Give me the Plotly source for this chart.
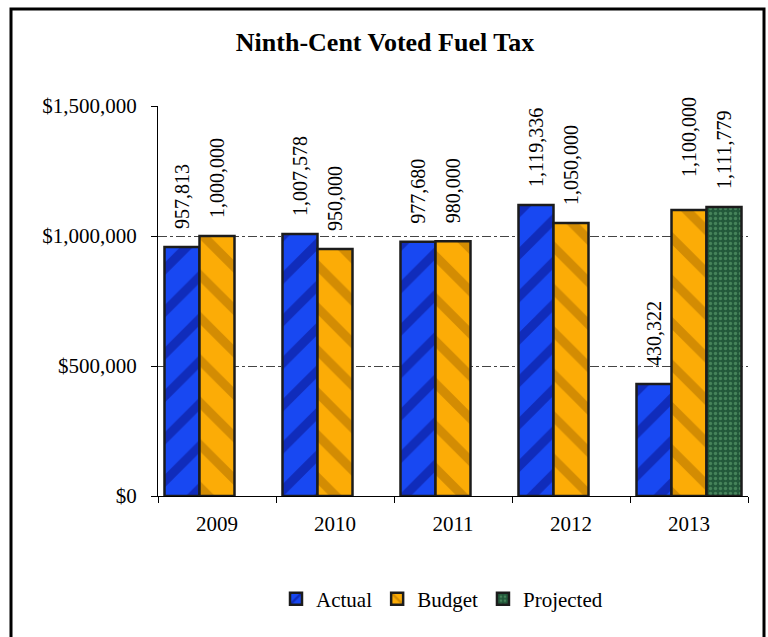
import plotly.graph_objects as go

# Fiscal years and revenue series
years = ["2009", "2010", "2011", "2012", "2013"]
actual = [957813, 1007578, 977680, 1119336, 430322]
budget = [1000000, 950000, 980000, 1050000, 1100000]
projected = [None, None, None, None, 1111779]

y_ticks = [0, 500000, 1000000, 1500000]
y_tick_labels = ["$0", "$500,000", "$1,000,000", "$1,500,000"]

FONT = "Liberation Serif, Times New Roman, serif"
W, H = 768, 637
L, R, T, B = 158, 20, 106, 141
PW, PH = W - L - R, H - T - B


def px_x(x):
    return (x - L) / PW


def px_y(y):
    return (H - B - y) / PH


outline = dict(color="#1c1c1c", width=2.5)
label_font = dict(family=FONT, size=20, color="black")
# leading spaces lift the rotated value labels clear of the bar tops
NB = "\u00a0"
label_tpl = NB * 3 + "%{y:,.0f}"
# the 2013 budget label sits a little higher so it clears its neighbour
budget_tpl = [label_tpl] * 4 + [NB * 6 + "%{y:,.0f}"]

common = dict(textposition="outside", textangle=-90, textfont=label_font,
              outsidetextfont=label_font, constraintext="none",
              cliponaxis=False)

fig = go.Figure()
fig.add_trace(go.Bar(
    name="Actual", x=years, y=actual,
    marker=dict(color="#1848f2", line=outline,
                pattern=dict(shape="/", fgcolor="#0a1896", size=30,
                             solidity=0.3, fgopacity=0.6)),
    texttemplate=label_tpl, **common,
))
fig.add_trace(go.Bar(
    name="Budget", x=years, y=budget,
    marker=dict(color="#fcac06", line=outline,
                pattern=dict(shape="\\", fgcolor="#b07000", size=30,
                             solidity=0.3, fgopacity=0.55)),
    texttemplate=budget_tpl, **common,
))
fig.add_trace(go.Bar(
    name="Projected", x=years, y=projected,
    marker=dict(color="#22583a", line=outline,
                pattern=dict(shape=".", fgcolor="#4f8d62", size=5,
                             solidity=0.35, fgopacity=0.8)),
    texttemplate=label_tpl, **common,
))

# Outer frame around the whole chart
fig.add_shape(type="rect", xref="paper", yref="paper",
              x0=px_x(11), x1=px_x(764), y0=px_y(645), y1=px_y(9),
              line=dict(color="black", width=3), fillcolor="rgba(0,0,0,0)",
              layer="below")

fig.update_layout(
    width=W, height=H,
    margin=dict(l=L, r=R, t=T, b=B),
    paper_bgcolor="white", plot_bgcolor="white",
    barmode="group", bargap=0.11, bargroupgap=0,
    font=dict(family=FONT, size=21, color="black"),
    title=dict(text="<b>Ninth-Cent Voted Fuel Tax</b>",
               font=dict(family=FONT, size=26, color="black"),
               x=385 / W, xanchor="center", y=1 - 42 / H, yanchor="middle"),
    showlegend=True,
    legend=dict(orientation="h", x=px_x(442), xanchor="center",
                y=px_y(599), yanchor="middle",
                font=dict(family=FONT, size=21, color="black"),
                itemwidth=30, tracegroupgap=0),
    xaxis=dict(showline=True, linecolor="black", linewidth=1,
               ticks="outside", tickson="boundaries", ticklen=6,
               tickcolor="black", showgrid=False, ticklabelstandoff=9,
               tickfont=dict(family=FONT, size=21, color="black")),
    yaxis=dict(range=[0, 1500000], tickvals=y_ticks, ticktext=y_tick_labels,
               showline=True, linecolor="black", linewidth=1,
               ticks="outside", ticklen=6, tickcolor="black",
               showgrid=True, gridcolor="#444444", gridwidth=1,
               griddash="dashdot", zeroline=False, ticklabelstandoff=10,
               tickfont=dict(family=FONT, size=21, color="black")),
)

fig.write_html("out.html")
